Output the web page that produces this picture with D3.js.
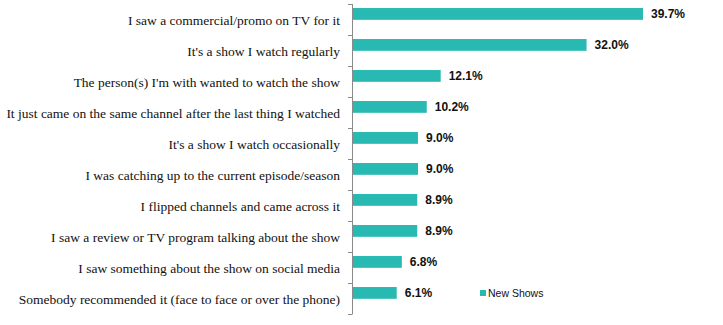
<!DOCTYPE html>
<html><head><meta charset="utf-8">
<script src="https://cdn.jsdelivr.net/npm/d3@7"></script>
<style>body{margin:0;background:#fff}svg{display:block}</style>
</head><body>
<svg id="c" width="723" height="325"></svg>
<script>
const categories = [
  "I saw a commercial/promo on TV for it",
  "It's a show I watch regularly",
  "The person(s) I'm with wanted to watch the show",
  "It just came on the same channel after the last thing I watched",
  "It's a show I watch occasionally",
  "I was catching up to the current episode/season",
  "I flipped channels and came across it",
  "I saw a review or TV program talking about the show",
  "I saw something about the show on social media",
  "Somebody recommended it (face to face or over the phone)"
];
const values = [39.7, 32.0, 12.1, 10.2, 9.0, 9.0, 8.9, 8.9, 6.8, 6.1];
const seriesName = "New Shows";

const color = "#27b9b2";
const svg = d3.select("#c");
const x0 = 352;
const x = d3.scaleLinear().domain([0, 40]).range([x0, x0 + 293.2]);
const y = d3.scaleBand().domain(categories).range([4, 314]).padding(0);
const bw = y.bandwidth();

// axis
const axis = d3.axisLeft(y).tickSize(0).tickFormat("");
svg.append("line").attr("x1", x0 + 0.5).attr("x2", x0 + 0.5).attr("y1", y.range()[0]).attr("y2", y.range()[1])
  .attr("stroke", "#8a8a8a").attr("stroke-width", 1);
const tickYs = categories.map(c => y(c)).concat([y.range()[1]]);
svg.selectAll("line.tick").data(tickYs).enter().append("line").attr("class", "tick")
  .attr("x1", x0 - 4).attr("x2", x0 + 0.5).attr("y1", d => Math.round(d) + 0.5).attr("y2", d => Math.round(d) + 0.5)
  .attr("stroke", "#8a8a8a").attr("stroke-width", 1);

// bars
svg.selectAll("rect.bar").data(values).enter().append("rect").attr("class", "bar")
  .attr("x", x0 + 1).attr("y", (d, i) => y(categories[i]) + bw * 0.13)
  .attr("width", d => x(d) - x0 - 1).attr("height", bw * 0.38)
  .attr("fill", color);

// value labels
svg.selectAll("text.val").data(values).enter().append("text").attr("class", "val")
  .attr("x", d => x(d) + 8).attr("y", (d, i) => y(categories[i]) + bw * 0.32 + 4.5)
  .attr("font-family", "Liberation Sans, Arial, sans-serif").attr("font-weight", "bold")
  .attr("font-size", 12).attr("fill", "#111")
  .text(d => d.toFixed(1) + "%");

// category labels
svg.selectAll("text.cat").data(categories).enter().append("text").attr("class", "cat")
  .attr("x", 340).attr("y", d => y(d) + bw / 2 + 5)
  .attr("text-anchor", "end")
  .attr("font-family", "Liberation Serif, Times New Roman, serif")
  .attr("font-size", 13.5).attr("fill", "#111")
  .text(d => d);

// legend
const lg = svg.append("g").attr("transform", "translate(480,290)");
lg.append("rect").attr("width", 6).attr("height", 6).attr("fill", color);
lg.append("text").attr("x", 8).attr("y", 7).attr("font-family", "Liberation Sans, Arial, sans-serif")
  .attr("font-size", 10.5).attr("fill", "#111").text(seriesName);
</script>
</body></html>
